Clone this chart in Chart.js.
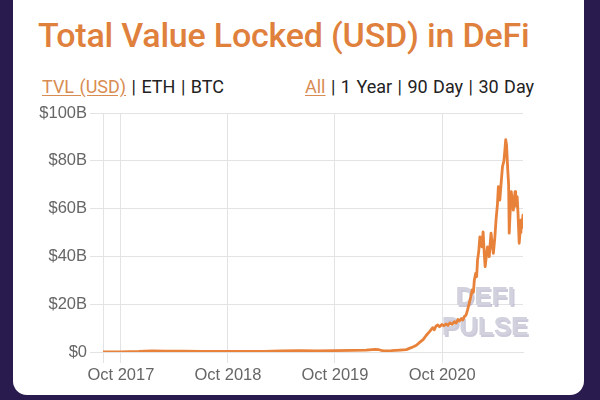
<!DOCTYPE html>
<html>
<head>
<meta charset="utf-8">
<script src="https://cdn.jsdelivr.net/npm/chart.js@4"></script>
<style>
  html, body { margin: 0; padding: 0; }
  body { width: 600px; height: 400px; background: #2a1b4e; position: relative; overflow: hidden; font-family: Roboto, sans-serif; }
  .card { position: absolute; left: 13px; top: -14px; width: 571px; height: 409px; background: #fff; border-radius: 14px; }
  .title { position: absolute; left: 38px; top: 18px; font-size: 34px; line-height: 34px; font-weight: 500; color: #e0803d; white-space: nowrap; letter-spacing: -0.2px; }
  .links { position: absolute; top: 78px; font-size: 18px; line-height: 18px; color: #222; white-space: nowrap; word-spacing: 1px; }
  .links .on { color: #d98c52; text-decoration: underline; text-underline-offset: 2px; }
  #chart { position: absolute; left: 0; top: 100px; }
</style>
</head>
<body>
<div class="card"></div>
<div class="title">Total Value Locked (USD) in DeFi</div>
<div class="links" style="left:42px"><span class="on">TVL (USD)</span> | ETH | BTC</div>
<div class="links" style="left:305px"><span class="on">All</span> | 1 Year | 90 Day | 30 Day</div>
<canvas id="chart" width="600" height="300"></canvas>
<script>
// 데이터 (날짜, TVL 단위: 십억 달러)
const dates = [
  '2017-08-01', '2017-10-01', '2017-12-01', '2018-01-15', '2018-03-01', '2018-05-01',
  '2018-07-01', '2018-09-15', '2018-12-01', '2019-02-01', '2019-04-01', '2019-06-01',
  '2019-08-01', '2019-10-01', '2019-12-01', '2020-01-15', '2020-02-14', '2020-02-28',
  '2020-03-13', '2020-04-10', '2020-05-10', '2020-06-01', '2020-06-11', '2020-06-25',
  '2020-07-05', '2020-07-15', '2020-07-28', '2020-08-08', '2020-08-19', '2020-08-30',
  '2020-09-04', '2020-09-10', '2020-09-16', '2020-09-22', '2020-09-30', '2020-10-07',
  '2020-10-14', '2020-10-21', '2020-10-28', '2020-11-04', '2020-11-12', '2020-11-18',
  '2020-11-24', '2020-11-29', '2020-12-05', '2020-12-11', '2020-12-16', '2020-12-22',
  '2020-12-27', '2021-01-02', '2021-01-07', '2021-01-12', '2021-01-16', '2021-01-19',
  '2021-01-24', '2021-01-27', '2021-01-30', '2021-02-03', '2021-02-07', '2021-02-10',
  '2021-02-14', '2021-02-18', '2021-02-22', '2021-02-25', '2021-03-01', '2021-03-05',
  '2021-03-08', '2021-03-11', '2021-03-14', '2021-03-17', '2021-03-21', '2021-03-25',
  '2021-03-30', '2021-04-03', '2021-04-08', '2021-04-11', '2021-04-16', '2021-04-20',
  '2021-04-25', '2021-04-30', '2021-05-03', '2021-05-06', '2021-05-09', '2021-05-13',
  '2021-05-16', '2021-05-18', '2021-05-21', '2021-05-25', '2021-05-29', '2021-06-01',
  '2021-06-04', '2021-06-07', '2021-06-09', '2021-06-11', '2021-06-14', '2021-06-17',
  '2021-06-21', '2021-06-24', '2021-06-27', '2021-06-30', '2021-07-04'
];
const tvl = [
  0.03, 0.06, 0.2, 0.45, 0.35, 0.4,
  0.3, 0.28, 0.27, 0.3, 0.45, 0.55,
  0.5, 0.6, 0.65, 0.8, 1.1, 0.95,
  0.5, 0.6, 0.8, 1.0, 1.5, 2.2,
  2.8, 3.9, 5.2, 7.0, 8.5, 10.2,
  9.3, 10.8, 11.3, 10.6, 11.5, 11.0,
  11.7, 11.2, 12.2, 11.6, 12.7, 12.1,
  13.6, 13.0, 13.9, 13.4, 14.8, 15.5,
  17.6, 20.5, 23.1, 26.0, 25.0, 30.0,
  33.0, 31.5, 38.5, 42.0, 48.2, 46.0,
  44.0, 50.3, 41.0, 35.7, 40.0, 44.0,
  42.0, 39.9, 45.0, 49.7, 45.0, 41.3,
  48.0, 55.2, 62.0, 69.2, 63.6, 70.0,
  77.5, 80.0, 84.0, 88.8, 86.5, 76.2,
  70.0, 49.7, 58.0, 67.1, 62.0, 59.4,
  64.0, 67.1, 61.0, 62.2, 65.0, 58.0,
  45.5, 50.0, 55.2, 52.0, 57.3
];
const tickDates = ['2017-10-01', '2018-10-01', '2019-10-01', '2020-10-01'];
const tickLabels = ['Oct 2017', 'Oct 2018', 'Oct 2019', 'Oct 2020'];
const yTicks = [0, 20, 40, 60, 80, 100];

// 날짜 문자열 -> 소수 연도
function toYear(s) {
  const [y, m, d] = s.split('-').map(Number);
  const start = Date.UTC(y, 0, 1);
  const end = Date.UTC(y + 1, 0, 1);
  return y + (Date.UTC(y, m - 1, d) - start) / (end - start);
}

const points = dates.map((d, i) => ({ x: toYear(d), y: tvl[i] }));
const xMin = toYear(dates[0]);
const xMax = toYear(dates[dates.length - 1]);
const xTickVals = tickDates.map(toYear);

// 워터마크
const watermark = {
  id: 'watermark',
  beforeDatasetsDraw(chart) {
    const ctx = chart.ctx;
    ctx.save();
    ctx.font = 'bold 26px "Liberation Sans", Arial, sans-serif';
    ctx.textAlign = 'center';
    ctx.textBaseline = 'alphabetic';
    ctx.shadowColor = 'rgba(110, 100, 150, 0.35)';
    ctx.shadowOffsetX = 1.5;
    ctx.shadowOffsetY = 1.5;
    ctx.fillStyle = '#d2d2de';
    const cx = 485;
    ctx.fillText('DEFI', cx, 205);
    ctx.fillText('PULSE', cx, 235);
    ctx.restore();
  }
};

const gridColor = '#e3e3e6';
const tickFont = { family: '"Liberation Sans", Arial, sans-serif', size: 16.5 };

new Chart(document.getElementById('chart'), {
  type: 'line',
  data: {
    datasets: [{
      data: points,
      borderColor: '#e8813a',
      borderWidth: 2.8,
      borderJoinStyle: 'round',
      borderCapStyle: 'round',
      pointRadius: 0,
      tension: 0,
      fill: false
    }]
  },
  options: {
    responsive: false,
    animation: false,
    layout: { padding: { top: 13, right: 77, left: 0, bottom: 0 } },
    plugins: { legend: { display: false }, tooltip: { enabled: false } },
    scales: {
      x: {
        type: 'linear',
        min: xMin,
        max: xMax,
        afterFit: s => { s.height = 48; },
        afterBuildTicks: s => { s.ticks = [xMin, ...xTickVals].map(v => ({ value: v })); },
        grid: { color: gridColor, tickLength: 11 },
        border: { color: gridColor },
        ticks: {
          color: '#666',
          font: tickFont,
          maxRotation: 0,
          autoSkip: false,
          padding: 3,
          callback: v => {
            const i = xTickVals.findIndex(t => Math.abs(t - v) < 1e-6);
            return i >= 0 ? tickLabels[i] : '';
          }
        }
      },
      y: {
        min: 0,
        max: 100,
        afterFit: s => { s.width = 103; },
        afterBuildTicks: s => { s.ticks = yTicks.map(v => ({ value: v })); },
        grid: { color: gridColor, tickLength: 13 },
        border: { color: gridColor },
        ticks: {
          color: '#666',
          font: tickFont,
          padding: 3,
          callback: v => v === 0 ? '$0' : '$' + v + 'B'
        }
      }
    }
  },
  plugins: [watermark]
});
</script>
</body>
</html>
